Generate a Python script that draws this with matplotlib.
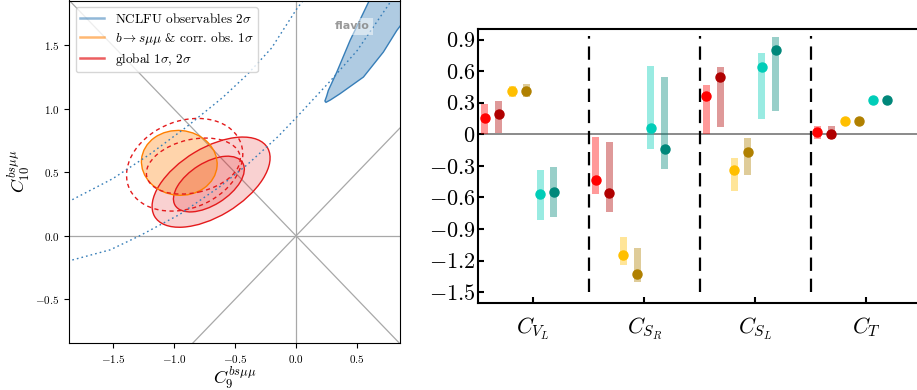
import numpy as np
import matplotlib
matplotlib.use('Agg')
import matplotlib.pyplot as plt
from matplotlib.patches import Ellipse, Polygon
from matplotlib.lines import Line2D

plt.rcParams.update({
    'font.family': 'serif',
    'font.serif': ['cmr10'],
    'mathtext.fontset': 'cm',
    'axes.formatter.use_mathtext': True,
})

# ---- left panel data ----
# dotted NCLFU lines
upper_x = [-1.83, -1.5, -1.2, -0.9, -0.6, -0.4, -0.2, 0.0, 0.07]
upper_y = [0.285, 0.45, 0.64, 0.855, 1.09, 1.27, 1.48, 1.78, 1.87]
lower_x = [-1.83, -1.52, -1.28, -0.95, -0.62, -0.40, -0.15, 0.0, 0.28, 0.50, 0.77, 0.80]
lower_y = [-0.19, -0.11, 0.0, 0.17, 0.39, 0.56, 0.78, 0.93, 1.22, 1.46, 1.84, 1.88]
# NCLFU 2 sigma region (top right)
blue_x = [0.235, 0.25, 0.264, 0.29, 0.333, 0.442, 0.592, 0.63, 0.95, 0.95, 0.824, 0.714, 0.551, 0.36, 0.28, 0.245]
blue_y = [1.06, 1.10, 1.146, 1.20, 1.29, 1.54, 1.84, 1.92, 1.92, 1.78, 1.618, 1.448, 1.251, 1.12, 1.07, 1.052]
# ellipses: centre, width, height, angle
orange_1s = ((-0.955, 0.575), 0.62, 0.51, -5)
global_1s = ((-0.713, 0.408), 0.646, 0.334, 31)
global_2s = ((-0.695, 0.423), 1.07, 0.54, 30)
dashed_1s = ((-0.84, 0.55), 0.78, 0.42, 12)
dashed_2s = ((-0.911, 0.56), 0.98, 0.69, 20)

# ---- right panel data ----
categories = [r'$C_{V_L}$', r'$C_{S_R}$', r'$C_{S_L}$', r'$C_T$']
colors = ['#ff0000', '#b00000', '#ffbf00', '#b08000', '#00cdb8', '#00877a']
central = [
    [0.152, -0.439, 0.36, 0.025],
    [0.19, -0.559, 0.543, 0.006],
    [0.414, -1.146, -0.335, 0.123],
    [0.413, -1.332, -0.164, 0.123],
    [-0.568, 0.06, 0.635, 0.322],
    [-0.546, -0.139, 0.805, 0.322],
]
low = [
    [0.0, -0.565, 0.003, -0.041],
    [0.016, -0.736, 0.069, -0.041],
    [0.35, -1.238, -0.537, 0.123],
    [0.357, -1.405, -0.385, 0.123],
    [-0.811, -0.139, 0.145, 0.322],
    [-0.783, -0.328, 0.221, 0.322],
]
high = [
    [0.287, -0.025, 0.467, 0.079],
    [0.316, -0.073, 0.638, 0.079],
    [0.458, -0.973, -0.224, 0.123],
    [0.477, -1.077, -0.032, 0.123],
    [-0.338, 0.647, 0.77, 0.322],
    [-0.309, 0.543, 0.922, 0.322],
]
yticks = [0.9, 0.6, 0.3, 0, -0.3, -0.6, -0.9, -1.2, -1.5]

fig = plt.figure(figsize=(9.17, 3.9), dpi=100)

#%% left panel
ax1 = fig.add_axes([69/917, 47/390, 331/917, 342.5/390])
ax1.set_xlim(-1.857, 0.85)
ax1.set_ylim(-0.844, 1.854)

gray = '#a8a8a8'
ax1.axhline(0, color=gray, lw=0.9, zorder=0.5)
ax1.axvline(0, color=gray, lw=0.9, zorder=0.5)
ax1.plot([-3, 3], [-3, 3], color=gray, lw=0.9, zorder=0.5)
ax1.plot([-3, 3], [3, -3], color=gray, lw=0.9, zorder=0.5)

blue = '#377eb8'
orange = '#ff7f00'
red = '#e41a1c'

ax1.add_patch(Polygon(np.column_stack([blue_x, blue_y]), closed=True,
                      facecolor=blue, alpha=0.4, edgecolor='none'))
ax1.add_patch(Polygon(np.column_stack([blue_x, blue_y]), closed=True,
                      facecolor='none', edgecolor=blue, lw=1))
ax1.plot(upper_x, upper_y, color=blue, lw=1, ls=(0, (1.2, 2.2)))
ax1.plot(lower_x, lower_y, color=blue, lw=1, ls=(0, (1.2, 2.2)))

for (c, w, h, a), col, al in [(global_2s, red, 0.2), (global_1s, red, 0.2),
                              (orange_1s, orange, 0.33)]:
    ax1.add_patch(Ellipse(c, w, h, angle=a, facecolor=col, alpha=al,
                          edgecolor='none'))
for (c, w, h, a), col in [(global_2s, red), (global_1s, red), (orange_1s, orange)]:
    ax1.add_patch(Ellipse(c, w, h, angle=a, facecolor='none', edgecolor=col, lw=1))
for (c, w, h, a) in [dashed_1s, dashed_2s]:
    ax1.add_patch(Ellipse(c, w, h, angle=a, facecolor='none', edgecolor=red,
                          lw=1, ls=(0, (3, 2.5))))

ax1.text(0.804, 0.925, 'flavio', transform=ax1.transAxes, family='DejaVu Sans',
         fontweight='bold', fontsize=8, color='gray', alpha=0.8, va='center',
         bbox=dict(facecolor='white', alpha=0.5, edgecolor='none', pad=2.5))

legend_elements = [
    Line2D([], [], color=blue, alpha=0.55, lw=1.8, label=r'NCLFU observables $2\sigma$'),
    Line2D([], [], color=orange, alpha=0.55, lw=1.8, label=r'$b\to s\mu\mu$ & corr. obs. $1\sigma$'),
    Line2D([], [], color=red, alpha=0.7, lw=1.8, label=r'global $1\sigma$, $2\sigma$'),
]
ax1.legend(handles=legend_elements, loc='upper left', fontsize=9.5,
           framealpha=0.8, labelspacing=0.3, borderpad=0.35, handlelength=1.8)

ax1.set_xticks([-1.5, -1.0, -0.5, 0.0, 0.5])
ax1.set_yticks([-0.5, 0.0, 0.5, 1.0, 1.5])
ax1.tick_params(labelsize=8, length=3.5, width=0.8)
ax1.set_xlabel(r'$C_9^{bs\mu\mu}$', fontsize=13, labelpad=-0.5)
ax1.set_ylabel(r'$C_{10}^{bs\mu\mu}$', fontsize=13, labelpad=2)

#%% right panel
ax2 = fig.add_axes([478/917, 87.3/390, 439/917, 273.7/390])
x = np.arange(len(categories))
for k in range(len(colors)):
    pos = x - 0.44 + 0.125*k
    lo = np.array(low[k])
    hi = np.array(high[k])
    ax2.bar(pos, hi - lo, bottom=lo, width=0.063, color=colors[k], alpha=0.4,
            lw=0, zorder=2)
    ax2.plot(pos, central[k], 'o', color=colors[k], ms=6.5, zorder=3)

ax2.axhline(0, color='#777777', lw=1.2, zorder=1)
ax2.vlines(x[:-1] + 0.5, -1.5, 0.93, colors='k', linestyles=(0, (6, 3.5)),
           lw=1.6, zorder=4)

ax2.set_xlim(-0.5, 3.46)
ax2.set_ylim(-1.6, 1.0)
ax2.set_xticks(x)
ax2.set_xticklabels(categories, fontsize=16)
ax2.set_yticks(yticks)
ax2.set_yticklabels(['$%g$' % v for v in yticks], fontsize=16)
ax2.spines['right'].set_visible(False)
for s in ['left', 'top', 'bottom']:
    ax2.spines[s].set_linewidth(1.5)
ax2.tick_params(direction='in', length=4, width=1.5)
ax2.tick_params(axis='x', pad=9)
ax2.tick_params(axis='y', pad=2)

plt.savefig('out.png', dpi=100)
